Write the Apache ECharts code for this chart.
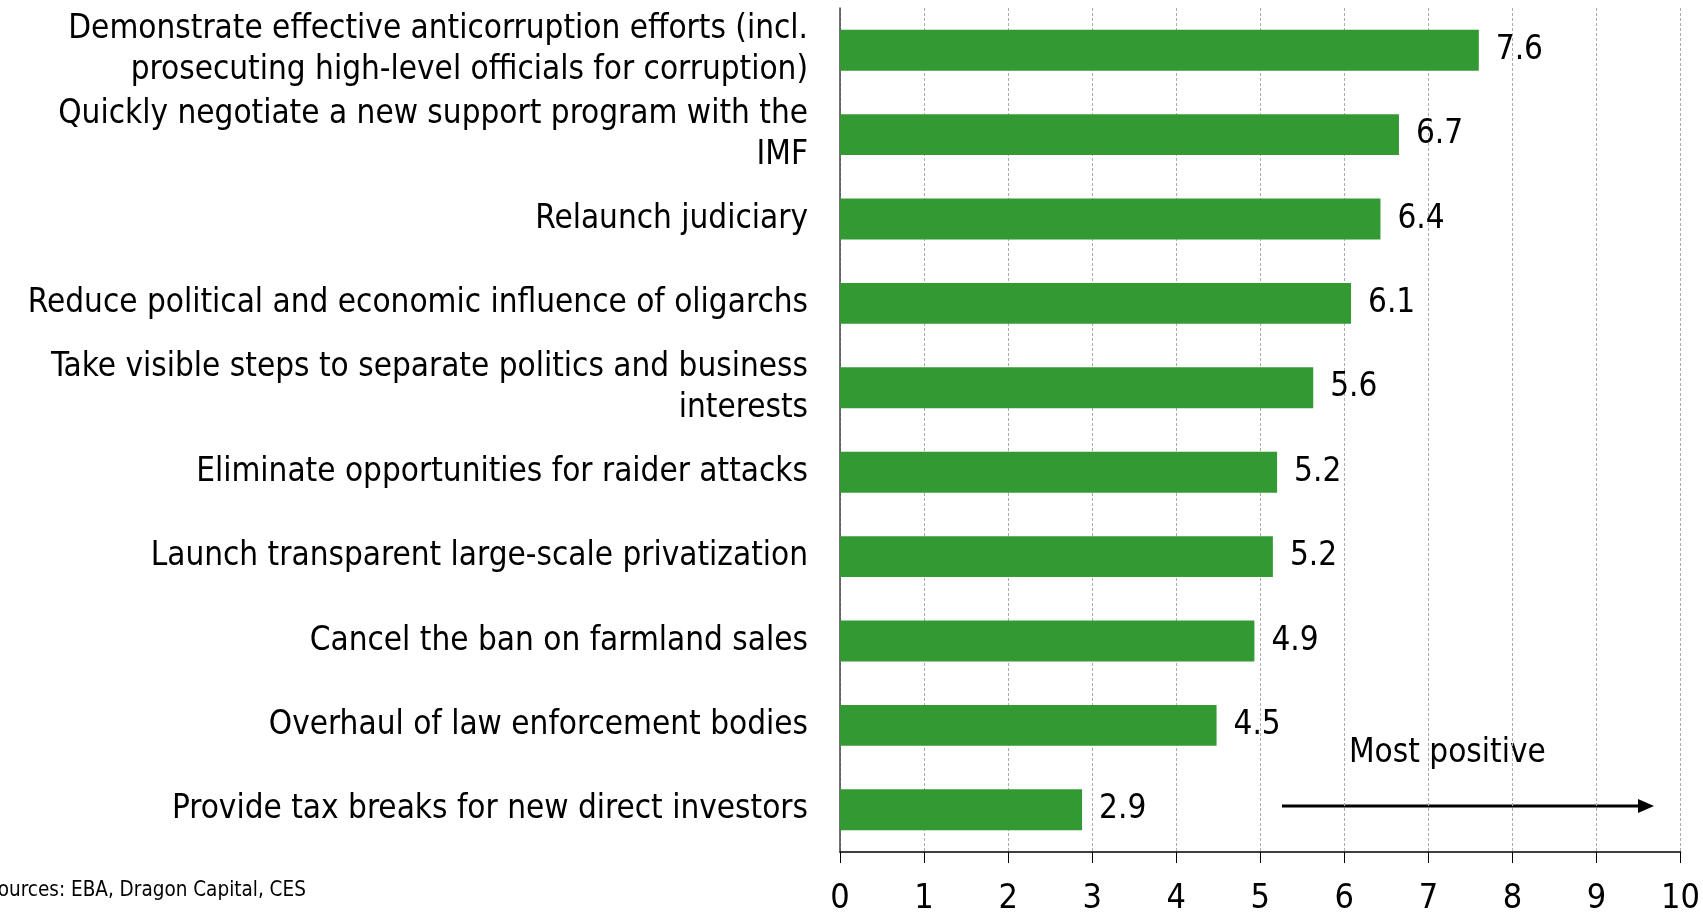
<!DOCTYPE html>
<html>
<head>
<meta charset="utf-8">
<script src="https://cdn.jsdelivr.net/npm/echarts@6/dist/echarts.min.js"></script>
<style>
  html, body { margin: 0; padding: 0; background: #fff; }
  #chartsDiv { width: 1703px; height: 916px; }
</style>
</head>
<body>
<div id="chartsDiv"></div>
<script>
// categories, top to bottom
const categories = [
  "Demonstrate effective anticorruption efforts (incl.\nprosecuting high-level officials for corruption)",
  "Quickly negotiate a new support program with the\nIMF",
  "Relaunch judiciary",
  "Reduce political and economic influence of oligarchs",
  "Take visible steps to separate politics and business\ninterests",
  "Eliminate opportunities for raider attacks",
  "Launch transparent large-scale privatization",
  "Cancel the ban on farmland sales",
  "Overhaul of law enforcement bodies",
  "Provide tax breaks for new direct investors"
];
// scores
const scores = [7.6, 6.65, 6.43, 6.08, 5.63, 5.2, 5.15, 4.93, 4.48, 2.88];
const xTicks = [0, 1, 2, 3, 4, 5, 6, 7, 8, 9, 10];

const fontFam = "'DejaVu Sans Condensed', 'Liberation Sans Narrow', 'DejaVu Sans', sans-serif";

let chart = echarts.init(document.getElementById("chartsDiv"));
let option = {
  animation: false,
  grid: { left: 840, right: 22, top: 8, bottom: 61, containLabel: false },
  xAxis: {
    type: "value",
    min: xTicks[0],
    max: xTicks[xTicks.length - 1],
    interval: 1,
    axisLine: { show: true, lineStyle: { color: "#000", width: 1.5 } },
    axisTick: { show: true, length: 11, lineStyle: { color: "#000", width: 1 } },
    axisLabel: { color: "#000", fontSize: 34, fontFamily: fontFam, margin: 30 },
    splitLine: { show: true, lineStyle: { color: "#aaa", width: 1, type: [3, 2] } }
  },
  yAxis: {
    type: "category",
    inverse: true,
    data: categories,
    axisLine: { show: true, lineStyle: { color: "#444", width: 1.5 } },
    axisTick: { show: false },
    axisLabel: {
      color: "#000",
      fontSize: 33,
      fontFamily: fontFam,
      lineHeight: 41,
      align: "right",
      margin: 32
    }
  },
  series: [
    {
      type: "bar",
      data: scores,
      barWidth: "48.5%",
      itemStyle: { color: "#339933" },
      label: {
        show: true,
        position: "right",
        distance: 17,
        color: "#000",
        fontSize: 33,
        fontFamily: fontFam,
        formatter: (p) => p.value.toFixed(1)
      }
    }
  ],
  graphic: [
    {
      type: "text",
      left: 1349, top: 737,
      style: { text: "Most positive", fontSize: 33, fontFamily: fontFam, fill: "#000" }
    },
    {
      type: "line",
      shape: { x1: 1282, y1: 806, x2: 1640, y2: 806 },
      style: { stroke: "#000", lineWidth: 3 }
    },
    {
      type: "polygon",
      shape: { points: [[1638, 799], [1654, 806], [1638, 813]] },
      style: { fill: "#000" }
    },
    {
      type: "text",
      left: -14, top: 880,
      style: { text: "Sources: EBA, Dragon Capital, CES", fontSize: 20.5, fontFamily: fontFam, fill: "#000" }
    }
  ]
};
chart.setOption(option);
</script>
</body>
</html>
